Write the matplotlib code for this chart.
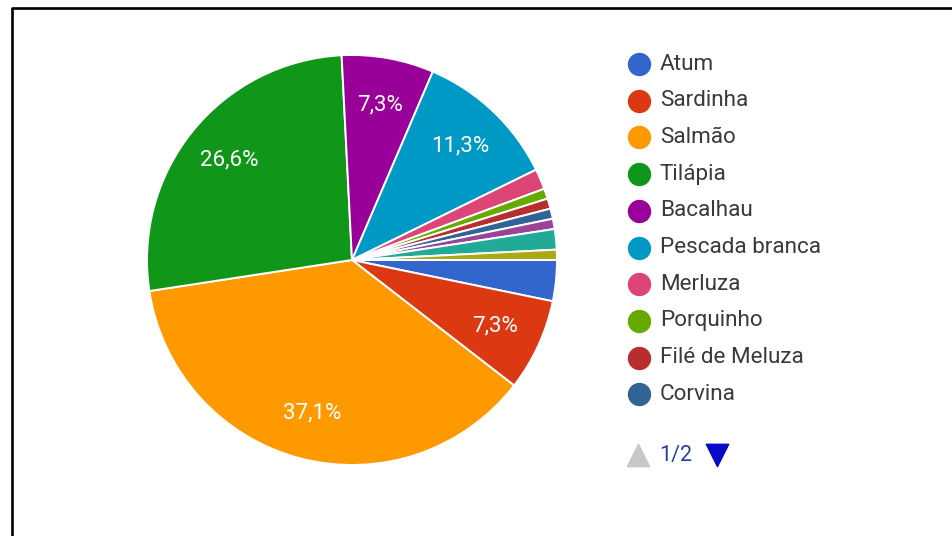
import matplotlib
matplotlib.use("Agg")
from matplotlib import pyplot as plt

plt.rcParams['font.family'] = ['Roboto', 'DejaVu Sans']

# respostas por tipo de peixe (124 no total)
peixes = ["Atum", "Sardinha", "Salmão", "Tilápia", "Bacalhau", "Pescada branca",
          "Merluza", "Porquinho", "Filé de Meluza", "Corvina",
          "Truta", "Pescada amarela", "Cação"]
respostas = [4, 9, 46, 33, 9, 14, 2, 1, 1, 1, 1, 2, 1]
cores = ["#3366cc", "#dc3912", "#ff9900", "#109618", "#990099", "#0099c6",
         "#dd4477", "#66aa00", "#b82e2e", "#316395", "#994499", "#22aa99", "#aaaa11"]
pagina = "1/2"
itens_pagina = 10

W, H = 952, 536
fig = plt.figure(figsize=(W / 100, H / 100), dpi=100)

# camada de fundo em pixels: moldura e legenda
bg = fig.add_axes([0, 0, 1, 1])
bg.set_xlim(0, W)
bg.set_ylim(H, 0)
bg.axis("off")
bg.plot([12, 12, W], [H, 8, 8], color="black", lw=1.9, solid_capstyle="butt")

# pizza
cx, cy, r = 352, 260, 205
ax = fig.add_axes([(cx - r) / W, (H - cy - r) / H, 2 * r / W, 2 * r / H])


def rotulo(p):
    if p < 5:
        return ""
    return f"{p:.1f}%".replace(".", ",")


wedges, textos, pct = ax.pie(respostas, colors=cores, startangle=0, counterclock=False,
                             autopct=rotulo, pctdistance=0.77,
                             wedgeprops=dict(edgecolor="white", linewidth=1.4))
for t in pct:
    t.set_color("white")
    t.set_fontsize(16)
ax.set_xlim(-1, 1)
ax.set_ylim(-1, 1)
ax.set_aspect("equal")

# legenda (primeira página)
y0, passo = 64, 36.7
for i, (nome, cor) in enumerate(zip(peixes[:itens_pagina], cores[:itens_pagina])):
    y = y0 + i * passo
    bg.scatter([639], [y], s=250, color=cor, zorder=3)
    bg.text(660, y, nome, fontsize=16.2, color="#3a3a3a", va="center", ha="left")

bg.scatter([638], [455], s=260, marker="^", color="#c8c8c8")
bg.text(659, 455, pagina, fontsize=15.5, color="#2a3fa0", va="center", ha="left")
bg.scatter([717], [455], s=260, marker="v", color="#0a0ac8")

plt.savefig("out.png", dpi=100)
